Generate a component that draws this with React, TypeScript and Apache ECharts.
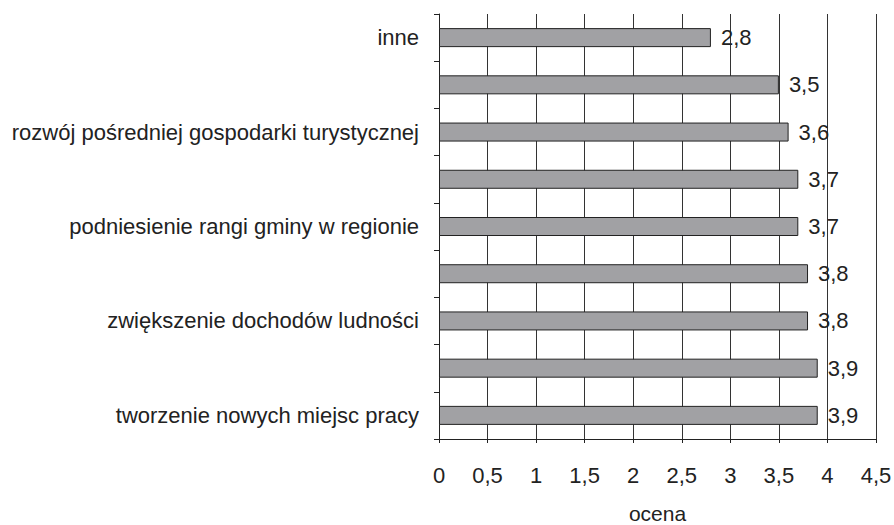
import React, { useEffect, useRef } from "react";
import * as echarts from "echarts";

const categories: string[] = [
  "tworzenie nowych miejsc pracy",
  "",
  "zwiększenie dochodów ludności",
  "",
  "podniesienie rangi gminy w regionie",
  "",
  "rozwój pośredniej gospodarki turystycznej",
  "",
  "inne",
];
const values: number[] = [3.9, 3.9, 3.8, 3.8, 3.7, 3.7, 3.6, 3.5, 2.8];
const axisTitle = "ocena";

const fmt = (v: number) => String(v).replace(".", ",");

export default function App() {
  const ref = useRef<HTMLDivElement>(null);
  useEffect(() => {
    if (!ref.current) return;
    const chart = echarts.init(ref.current, null, { renderer: "svg" });
    const font = "'Liberation Sans', Arial, sans-serif";
    const fs = 22;
    chart.setOption({
      animation: false,
      backgroundColor: "#ffffff",
      textStyle: { fontFamily: font },
      grid: {
        left: 439,
        right: 18,
        top: 14,
        bottom: 86,
        containLabel: false,
        outerBoundsMode: "none",
      },
      xAxis: {
        type: "value",
        min: 0,
        max: 4.5,
        interval: 0.5,
        name: axisTitle,
        nameLocation: "middle",
        nameGap: 64,
        nameTextStyle: { fontSize: 21, lineHeight: 21, color: "#222", fontFamily: font },
        axisLine: { show: true, lineStyle: { color: "#222", width: 1 } },
        axisTick: { show: true, length: 4, inside: false, lineStyle: { color: "#222" } },
        axisLabel: {
          fontSize: fs,
          color: "#222",
          margin: 25,
          fontFamily: font,
          formatter: (v: number) => fmt(v),
        },
        splitLine: { show: true, lineStyle: { color: "#333", width: 1 } },
      },
      yAxis: {
        type: "category",
        data: categories,
        boundaryGap: true,
        axisLine: { show: true, lineStyle: { color: "#222", width: 1 } },
        axisTick: { show: true, length: 5, interval: 0, lineStyle: { color: "#222" } },
        axisLabel: {
          interval: 0,
          fontSize: fs,
          color: "#222",
          margin: 20,
          fontFamily: font,
        },
        splitLine: { show: false },
      },
      series: [
        {
          type: "bar",
          data: values,
          barWidth: 19,
          itemStyle: { color: "#a1a1a4", borderColor: "#222", borderWidth: 1 },
          label: {
            show: true,
            position: "right",
            distance: 10,
            fontSize: fs,
            color: "#222",
            fontFamily: font,
            formatter: (p: any) => fmt(p.value),
          },
        },
      ],
    });
    return () => chart.dispose();
  }, []);
  return <div ref={ref} style={{ width: 894, height: 525, position: "absolute", left: 0, top: 0 }} />;
}
